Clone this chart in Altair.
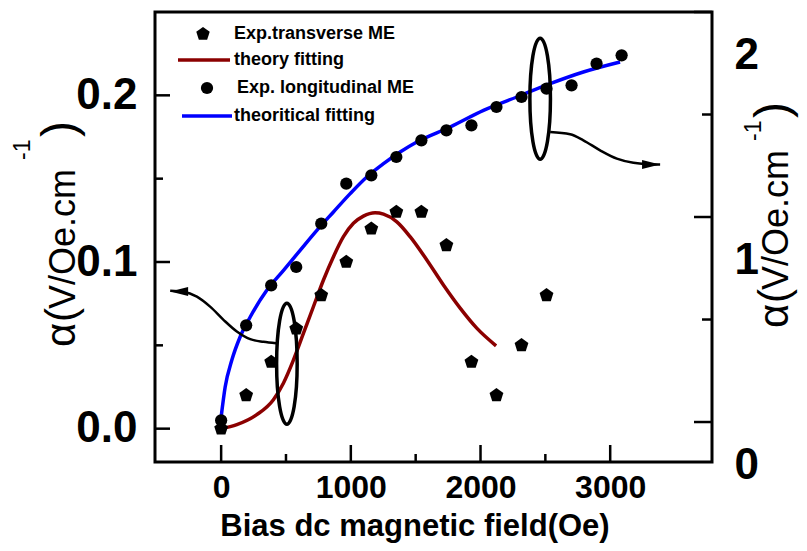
import altair as alt
import pandas as pd

# ---------------- data ----------------
field_long = [0, 193, 386, 579, 772, 965, 1158, 1351, 1544, 1737, 1930, 2123, 2316, 2509, 2702, 2895, 3088]
alpha_long = [0.005, 0.062, 0.086, 0.097, 0.123, 0.147, 0.152, 0.163, 0.173, 0.179, 0.182, 0.193, 0.199, 0.204, 0.206, 0.219, 0.224]

field_trans = [0, 193, 386, 579, 772, 965, 1158, 1351, 1544, 1737, 1930, 2123, 2316, 2509]
alpha_trans = [0.0, 0.020, 0.040, 0.060, 0.080, 0.100, 0.120, 0.130, 0.130, 0.110, 0.040, 0.020, 0.050, 0.080]

fit_long_x = [0, 31, 82, 146, 224, 352, 481, 609, 738, 866, 995, 1123, 1252, 1380, 1509, 1766, 2023, 2280, 2537, 2793, 3076]
fit_long_y = [0.007, 0.025, 0.041, 0.055, 0.067, 0.083, 0.095, 0.107, 0.119, 0.130, 0.141, 0.151, 0.159, 0.166, 0.172, 0.181, 0.191, 0.199, 0.207, 0.214, 0.220]

fit_trans_x = [0, 121, 275, 403, 480, 558, 635, 712, 789, 866, 943, 1020, 1097, 1187, 1252, 1355, 1457, 1586, 1714, 1843, 1971, 2120]
fit_trans_y = [0.0, 0.0024, 0.0084, 0.0174, 0.0273, 0.0413, 0.0573, 0.0733, 0.0892, 0.1032, 0.1152, 0.1232, 0.1275, 0.1295, 0.1287, 0.1241, 0.1152, 0.1012, 0.0862, 0.0723, 0.0603, 0.0497]

x_major = [0, 1000, 2000, 3000]
x_minor = [500, 1500, 2500]
yl_major = [0.0, 0.1, 0.2]
yl_minor = [0.05, 0.15]
yr_major = [0, 1, 2]
yr_minor = [0.5, 1.5]

legend_labels = ["Exp.transverse ME", "theory fitting", "Exp. longitudinal ME", "theoritical fitting"]
x_title = "Bias dc magnetic field(Oe)"
y_title_parts = ["\u03b1", "(", "V/Oe.cm", "-1", ")"]

# annotations (ellipses + curved arrows), data units
ellipse_x = [507, 2460]
ellipse_y = [0.039, 0.198]
arrow_id = ["left"] * 9 + ["right"] * 8
arrow_x = [-393, -291, -187, -85, 18, 121, 224, 326, 424,
           2537, 2691, 2793, 2922, 3051, 3179, 3282, 3385]
arrow_y = [0.0828, 0.0822, 0.0792, 0.0732, 0.0653, 0.0583, 0.0537, 0.0521, 0.0513,
           0.178, 0.1766, 0.173, 0.167, 0.162, 0.1595, 0.1587, 0.1585]
head_x = [-324, 3315]
head_y = [0.0823, 0.1585]
head_angle = [180, 0]

# ---------------- layout / style ----------------
W, H = 557, 450
FONT = "Liberation Sans"
PENT = "M0,-1L0.951,-0.309L0.588,0.809L-0.588,0.809L-0.951,-0.309Z"
ELL = "M0,-1A0.17,1 0 1,1 0,1A0.17,1 0 1,1 0,-1Z"
HEAD = "M1,0L-1,-0.5L-1,0.5Z"

XS = alt.Scale(domain=[-510, 3785], nice=False, zero=False)
YL = alt.Scale(domain=[-0.02, 0.25], nice=False, zero=False)
YR = alt.Scale(domain=[-0.195, 2.0], nice=False, zero=False)

ax_x_labels = alt.Axis(orient="bottom", values=x_major, format="d", ticks=False, tickSize=0,
                       domain=False, grid=False, title=None, labelFont=FONT, labelFontSize=32,
                       labelFontWeight="bold", labelColor="black", labelPadding=10,
                       labelFlush=False, labelOverlap=False)
ax_yl_labels = alt.Axis(orient="left", values=yl_major, format=".1f", ticks=False, tickSize=0,
                        domain=False, grid=False, title=None, labelFont=FONT, labelFontSize=44,
                        labelFontWeight="bold", labelColor="black", labelPadding=18,
                        labelOverlap=False)
ax_yr_labels = alt.Axis(orient="right", values=yr_major, format="d", ticks=False, tickSize=0,
                        domain=False, grid=False, title=None, labelFont=FONT, labelFontSize=44,
                        labelFontWeight="bold", labelColor="black", labelPadding=22,
                        labelOffset=43, labelOverlap=False)

# ---------------- data frames ----------------
df_long = pd.DataFrame({"field": field_long, "alpha": alpha_long})
df_trans = pd.DataFrame({"field": field_trans, "alpha": alpha_trans})
df_fit_long = pd.DataFrame({"field": fit_long_x, "alpha": fit_long_y})
df_fit_trans = pd.DataFrame({"field": fit_trans_x, "alpha": fit_trans_y})
df_ell = pd.DataFrame({"field": ellipse_x, "alpha": ellipse_y})
df_arrow = pd.DataFrame({"field": arrow_x, "alpha": arrow_y, "id": arrow_id})
df_head = pd.DataFrame({"field": head_x, "alpha": head_y, "ang": head_angle})

layers = []

layers.append(alt.Chart(df_fit_long).mark_line(color="#0000FF", strokeWidth=3.5, interpolate="monotone").encode(
    x=alt.X("field:Q", scale=XS, axis=ax_x_labels),
    y=alt.Y("alpha:Q", scale=YL, axis=ax_yl_labels)))

layers.append(alt.Chart(df_fit_trans).mark_line(color="#8B0000", strokeWidth=3.5, interpolate="monotone").encode(
    x=alt.X("field:Q", scale=XS, axis=None),
    y=alt.Y("alpha:Q", scale=YL, axis=None)))

layers.append(alt.Chart(df_trans).mark_point(shape=PENT, filled=True, color="black", size=210, opacity=1).encode(
    x=alt.X("field:Q", scale=XS, axis=None),
    y=alt.Y("alpha:Q", scale=YL, axis=None)))

layers.append(alt.Chart(df_long).mark_circle(color="black", size=150, opacity=1).encode(
    x=alt.X("field:Q", scale=XS, axis=None),
    y=alt.Y("alpha:Q", scale=YL, axis=None)))

layers.append(alt.Chart(df_ell).mark_point(shape=ELL, filled=False, color="black", strokeWidth=3.5,
                                           size=14641, opacity=1).encode(
    x=alt.X("field:Q", scale=XS, axis=None),
    y=alt.Y("alpha:Q", scale=YL, axis=None)))

layers.append(alt.Chart(df_arrow).mark_line(color="black", strokeWidth=2.5, interpolate="monotone").encode(
    x=alt.X("field:Q", scale=XS, axis=None),
    y=alt.Y("alpha:Q", scale=YL, axis=None),
    detail="id:N"))

layers.append(alt.Chart(df_head).mark_point(shape=HEAD, filled=True, color="black", size=324, opacity=1).encode(
    x=alt.X("field:Q", scale=XS, axis=None),
    y=alt.Y("alpha:Q", scale=YL, axis=None),
    angle=alt.Angle("ang:Q", scale=None)))

# inward ticks drawn as rules on the frame
TW = 2.5
for vals, ln in [(x_major, 17), (x_minor, 8)]:
    layers.append(alt.Chart(pd.DataFrame({"v": vals})).mark_rule(color="black", strokeWidth=TW).encode(
        x=alt.X("v:Q", scale=XS, axis=None), y=alt.value(H), y2=alt.value(H - ln)))
for vals, ln in [(yl_major, 15), (yl_minor, 8)]:
    layers.append(alt.Chart(pd.DataFrame({"v": vals})).mark_rule(color="black", strokeWidth=TW).encode(
        y=alt.Y("v:Q", scale=YL, axis=None), x=alt.value(0), x2=alt.value(ln)))
for vals, ln in [(yr_major, 18), (yr_minor, 10)]:
    layers.append(alt.Chart(pd.DataFrame({"v": vals})).mark_rule(color="black", strokeWidth=TW).encode(
        y=alt.Y("v:Q", scale=YR, axis=None), x=alt.value(W), x2=alt.value(W - ln)))

# right axis labels (second scale)
layers.append(alt.Chart(pd.DataFrame({"r": yr_major})).mark_point(opacity=0).encode(
    x=alt.value(0), y=alt.Y("r:Q", scale=YR, axis=ax_yr_labels)))

# legend
leg_text_x = [79, 79, 82, 79]
leg_y = [22, 48, 76, 104]
for i, lab in enumerate(legend_labels):
    layers.append(alt.Chart(pd.DataFrame({"t": [lab]})).mark_text(
        font=FONT, fontSize=18, fontWeight="bold", align="left", baseline="middle", color="black").encode(
        text="t:N", x=alt.value(leg_text_x[i]), y=alt.value(leg_y[i])))

layers.append(alt.Chart(pd.DataFrame({"s": [legend_labels[0]]})).mark_point(
    shape=PENT, filled=True, color="black", size=200, opacity=1).encode(
    x=alt.value(48), y=alt.value(leg_y[0])))
layers.append(alt.Chart(pd.DataFrame({"s": [legend_labels[2]]})).mark_circle(
    color="black", size=150, opacity=1).encode(x=alt.value(52), y=alt.value(leg_y[2])))
layers.append(alt.Chart(pd.DataFrame({"s": [legend_labels[1]]})).mark_rule(
    color="#8B0000", strokeWidth=3.5).encode(x=alt.value(23), x2=alt.value(75), y=alt.value(leg_y[1])))
layers.append(alt.Chart(pd.DataFrame({"s": [legend_labels[3]]})).mark_rule(
    color="#0000FF", strokeWidth=3.5).encode(x=alt.value(27), x2=alt.value(77), y=alt.value(leg_y[3])))

# x title
layers.append(alt.Chart(pd.DataFrame({"t": [x_title]})).mark_text(
    font=FONT, fontSize=31, fontWeight="bold", align="center", baseline="alphabetic", color="black").encode(
    text="t:N", x=alt.value(260), y=alt.value(524)))

# y titles (left and right), rotated; pieces: alpha, "(", main, superscript, ")"
part_size = [42, 42, 36, 23, 48]
part_dy = [0, -25, -38, -187, -210]      # start offsets along the (upward) text direction
for base_x, start_y, sup_dx in [(-80, 335, -45), (633, 316, -27)]:
    part_dx = [0, 0, 0, sup_dx, 0]
    for txt, fs, dy, dx in zip(y_title_parts, part_size, part_dy, part_dx):
        layers.append(alt.Chart(pd.DataFrame({"t": [txt]})).mark_text(
            font=FONT, fontSize=fs, angle=270, align="left", baseline="alphabetic", color="black").encode(
            text="t:N", x=alt.value(base_x + dx), y=alt.value(start_y + dy)))

chart = alt.layer(*layers).resolve_scale(
    x="independent", y="independent"
).resolve_axis(
    x="independent", y="independent"
).properties(
    width=W, height=H,
    autosize=alt.AutoSizeParams(type="none"),
    padding={"left": 147, "top": 4, "right": 87, "bottom": 81},
    background="white",
).configure(font=FONT).configure_view(stroke="black", strokeWidth=3)

chart.save("out.html", embed_options={"renderer": "svg", "actions": False})
